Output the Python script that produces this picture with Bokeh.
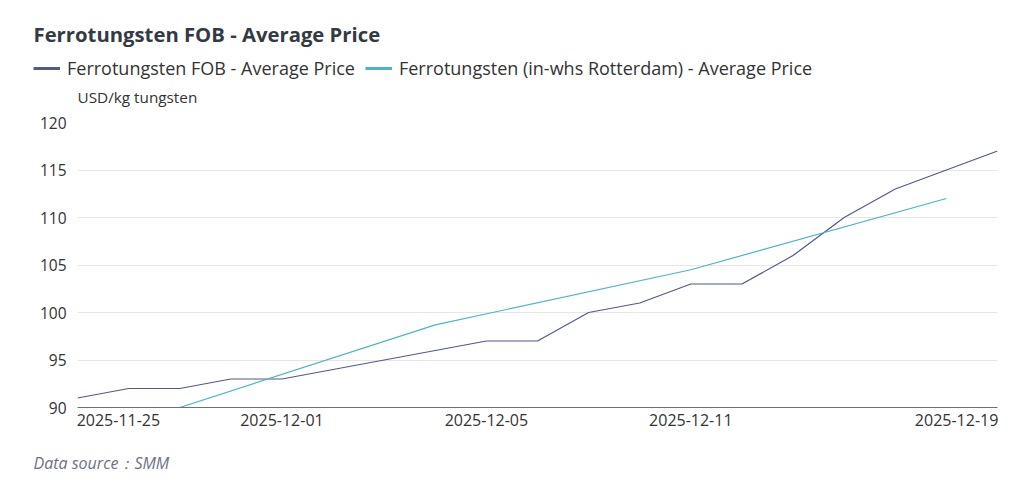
from bokeh.plotting import figure
from bokeh.layouts import column
from bokeh.models import Label, Legend, LegendItem, FixedTicker, ColumnDataSource
from bokeh.embed import file_html
from bokeh.resources import INLINE

# ---- data ----
dates = ["2025-11-25", "2025-11-26", "2025-11-27", "2025-11-28",
         "2025-12-01", "2025-12-02", "2025-12-03", "2025-12-04", "2025-12-05",
         "2025-12-08", "2025-12-09", "2025-12-10", "2025-12-11", "2025-12-12",
         "2025-12-15", "2025-12-16", "2025-12-17", "2025-12-18", "2025-12-19"]
fob_price = [91, 92, 92, 93, 93, 94, 95, 96, 97, 97, 100, 101, 103, 103, 106, 110, 113, 115, 117]
rotterdam_dates = ["2025-11-27", "2025-12-04", "2025-12-11", "2025-12-18"]
rotterdam_price = [90, 98.7, 104.5, 112]
series_names = ["Ferrotungsten FOB - Average Price",
                "Ferrotungsten (in-whs Rotterdam) - Average Price"]
chart_title = "Ferrotungsten FOB - Average Price"
unit_label = "USD/kg tungsten"
source_note = "Data source：SMM"
x_tick_labels = ["2025-11-25", "2025-12-01", "2025-12-05", "2025-12-11", "2025-12-19"]
y_ticks = [90, 95, 100, 105, 110, 115, 120]

FONT = "Open Sans"
C_FOB = "#505a8c"
C_ROT = "#4cb5c5"
TXT = "#333333"

# ---- layout (pixels) ----
W = 1014
H_HEAD, H_MAIN, H_FOOT = 110, 330, 36
L, R = 77, 997
TOP_PAD, BOT_PAD = 12, 33
N = len(dates)

idx = {d: i for i, d in enumerate(dates)}
fob_src = ColumnDataSource(dict(x=list(range(N)), y=fob_price))
rot_src = ColumnDataSource(dict(x=[idx[d] for d in rotterdam_dates], y=rotterdam_price))


def blank_fig(h):
    f = figure(width=W, height=h, output_backend="svg", toolbar_location=None, title=None,
               x_axis_location=None, y_axis_location=None, x_range=(0, 1), y_range=(0, 1),
               min_border_left=0, min_border_right=0, min_border_top=0, min_border_bottom=0)
    f.outline_line_color = None
    f.grid.visible = False
    f.background_fill_color = "white"
    f.border_fill_color = "white"
    return f


def text(f, s, px, base_from_top, h, size, style="normal", color=TXT):
    f.add_layout(Label(x=px, y=h - base_from_top, x_units="screen", y_units="screen", text=s,
                       text_align="left", text_baseline="alphabetic", text_font=FONT,
                       text_font_size=size, text_font_style=style, text_color=color))


# ---- header: title, legend, unit ----
head = blank_fig(H_HEAD)
text(head, chart_title, 33, 33, H_HEAD, "20.3px", style="bold", color="#333a44")
text(head, unit_label, 77, 96, H_HEAD, "15.3px")
# the series drawn again with thick lines only for the legend swatches
# (they fall outside this header's ranges, so only the legend shows them)
s1 = head.line("x", "y", source=fob_src, line_color=C_FOB, line_width=3)
s2 = head.line("x", "y", source=rot_src, line_color=C_ROT, line_width=3)
legend = Legend(items=[LegendItem(label=series_names[0], renderers=[s1]),
                       LegendItem(label=series_names[1], renderers=[s2])],
                orientation="horizontal", location=(33, H_HEAD - 80),
                padding=0, margin=0, spacing=10, glyph_width=27, glyph_height=24,
                label_standoff=7, label_height=24,
                label_text_font=FONT, label_text_font_size="18px", label_text_color=TXT,
                border_line_color=None, background_fill_alpha=0)
head.add_layout(legend)

# ---- main chart ----
p = figure(width=W, height=H_MAIN, output_backend="svg", toolbar_location=None, title=None,
           x_range=(0, N - 1), y_range=(y_ticks[0], y_ticks[-1]),
           min_border_left=L, min_border_right=W - R, min_border_top=TOP_PAD,
           min_border_bottom=BOT_PAD)
p.outline_line_color = None
p.background_fill_color = "white"
p.border_fill_color = "white"

p.line("x", "y", source=fob_src, line_color=C_FOB, line_width=1.2)
p.line("x", "y", source=rot_src, line_color=C_ROT, line_width=1.2)

p.yaxis.ticker = FixedTicker(ticks=y_ticks)
p.yaxis.axis_line_color = None
p.yaxis.major_tick_line_color = None
p.yaxis.minor_tick_line_color = None
p.yaxis.major_tick_out = 0
p.yaxis.minor_tick_out = 0
p.yaxis.major_label_standoff = 11
p.yaxis.major_label_text_font = FONT
p.yaxis.major_label_text_font_size = "15.5px"
p.yaxis.major_label_text_color = TXT

# first/last labels sit inside the frame: their ticks are nudged inward
shift = 0.8
x_tick_pos = [idx[d] for d in x_tick_labels]
x_tick_pos[0] = x_tick_pos[0] + shift
x_tick_pos[-1] = x_tick_pos[-1] - shift
p.xaxis.ticker = FixedTicker(ticks=x_tick_pos)
p.xaxis.major_label_overrides = {pos: lab for pos, lab in zip(x_tick_pos, x_tick_labels)}
p.xaxis.axis_line_color = "#6e7079"
p.xaxis.axis_line_width = 1
p.xaxis.major_tick_line_color = None
p.xaxis.minor_tick_line_color = None
p.xaxis.major_tick_out = 0
p.xaxis.minor_tick_out = 0
p.xaxis.major_label_standoff = 6
p.xaxis.major_label_text_font = FONT
p.xaxis.major_label_text_font_size = "16px"
p.xaxis.major_label_text_color = TXT

p.xgrid.visible = False
p.ygrid.ticker = FixedTicker(ticks=y_ticks)
p.ygrid.grid_line_color = "#e6e6e6"
p.ygrid.grid_line_width = 1

# ---- footer: data source ----
foot = blank_fig(H_FOOT)
text(foot, source_note, 33, 22, H_FOOT, "16px", style="italic", color="#6b7280")

# header and footer are nested on their own so their frames are not aligned to the chart's
layout = column(column(head), p, column(foot), spacing=0)
open("out.html", "w").write(file_html(layout, INLINE))
